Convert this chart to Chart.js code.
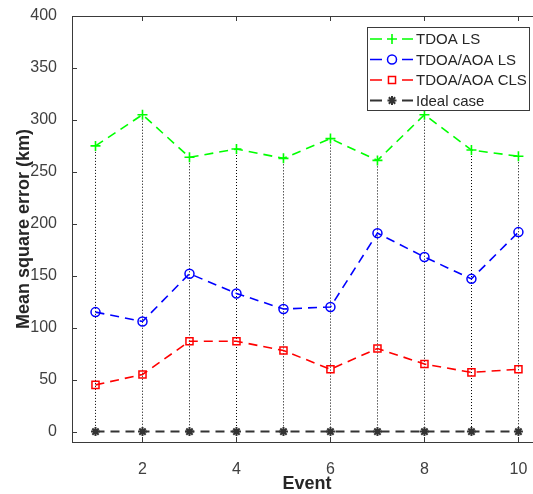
<!DOCTYPE html>
<html>
<head>
<meta charset="utf-8">
<script src="https://cdn.jsdelivr.net/npm/chart.js@4/dist/chart.umd.min.js"></script>
<style>
  html, body { margin: 0; padding: 0; background: #ffffff; }
  canvas { display: block; }
</style>
</head>
<body>
<canvas id="c" width="533" height="494"></canvas>
<script>
// Event index on the x axis
const events = [1, 2, 3, 4, 5, 6, 7, 8, 9, 10];

// Mean square error (km) per estimator
const tdoaLS     = [275, 305, 264, 272, 263, 282, 261, 305, 271, 265];
const tdoaAoaLS  = [115, 106, 152, 133, 118, 120, 191, 168, 147, 192];
const tdoaAoaCLS = [45, 55, 87, 87, 78, 60, 80, 65, 57, 60];
const idealCase  = [0, 0, 0, 0, 0, 0, 0, 0, 0, 0];

const seriesLabels = ['TDOA LS', 'TDOA/AOA LS', 'TDOA/AOA CLS', 'Ideal case'];
const xTitle = 'Event';
const yTitle = 'Mean square error (km)';

// Tick positions
const xTicks = [2, 4, 6, 8, 10];
const yTicks = [0, 50, 100, 150, 200, 250, 300, 350, 400];

const FONT = '"Liberation Sans", Arial, Helvetica, sans-serif';
const AXIS_COLOR = '#3a3a3a';

const toXY = (ys) => events.map((e, i) => ({ x: e, y: ys[i] }));

function series(label, ys, color, style, radius, pointWidth, lineWidth) {
  return {
    label: label,
    data: toXY(ys),
    borderColor: color,
    backgroundColor: 'rgba(0,0,0,0)',
    borderWidth: lineWidth,
    borderDash: [9, 6],
    pointStyle: style,
    pointRadius: radius,
    pointBorderColor: color,
    pointBackgroundColor: 'rgba(0,0,0,0)',
    pointBorderWidth: pointWidth,
    tension: 0,
    fill: false
  };
}

// Dotted stems from the highest value of each event down to the ideal line
const stems = {
  id: 'stems',
  beforeDatasetsDraw(chart) {
    const { ctx, scales: { x, y } } = chart;
    ctx.save();
    ctx.strokeStyle = '#000000';
    ctx.lineWidth = 1;
    ctx.setLineDash([1, 2]);
    events.forEach((e, i) => {
      const top = Math.max(tdoaLS[i], tdoaAoaLS[i], tdoaAoaCLS[i], idealCase[i]);
      const px = Math.round(x.getPixelForValue(e)) + 0.5;
      ctx.beginPath();
      ctx.moveTo(px, y.getPixelForValue(top));
      ctx.lineTo(px, y.getPixelForValue(idealCase[i]));
      ctx.stroke();
    });
    ctx.restore();
  }
};

// Box frame top edge, inward tick marks and the x-axis title
const frame = {
  id: 'frame',
  afterDatasetsDraw(chart) {
    const { ctx, chartArea: a, scales: { x, y } } = chart;
    ctx.save();
    ctx.strokeStyle = AXIS_COLOR;
    ctx.lineWidth = 1;
    ctx.beginPath();
    ctx.moveTo(a.left, a.top + 0.5);
    ctx.lineTo(a.right, a.top + 0.5);
    const len = 5;
    xTicks.forEach(v => {
      const px = Math.round(x.getPixelForValue(v)) + 0.5;
      ctx.moveTo(px, a.bottom);
      ctx.lineTo(px, a.bottom - len);
      ctx.moveTo(px, a.top);
      ctx.lineTo(px, a.top + len);
    });
    yTicks.forEach(v => {
      const py = Math.round(y.getPixelForValue(v)) + 0.5;
      ctx.moveTo(a.left, py);
      ctx.lineTo(a.left + len, py);
    });
    ctx.stroke();

    // x title centred under the full 0.5..10.5 event range
    ctx.fillStyle = '#262626';
    ctx.font = 'bold 18px ' + FONT;
    ctx.textAlign = 'center';
    ctx.textBaseline = 'middle';
    ctx.fillText(xTitle, x.getPixelForValue(5.5), 484);
    ctx.restore();
  }
};

// Legend box in the upper right of the plot
const boxLegend = {
  id: 'boxLegend',
  afterDraw(chart) {
    const { ctx, chartArea: a } = chart;
    const w = 162, h = 83;
    const x0 = a.right - 4 - w, y0 = a.top + 11;
    ctx.save();
    ctx.fillStyle = '#ffffff';
    ctx.fillRect(x0, y0, w, h);
    ctx.strokeStyle = '#3a3a3a';
    ctx.lineWidth = 1;
    ctx.strokeRect(x0 + 0.5, y0 + 0.5, w, h);
    chart.data.datasets.forEach((ds, i) => {
      const cy = y0 + 12 + i * 20.5;
      ctx.strokeStyle = ds.borderColor;
      ctx.lineWidth = ds.borderWidth;
      ctx.setLineDash([]);
      ctx.beginPath();
      ctx.moveTo(x0 + 3, cy);
      ctx.lineTo(x0 + 15, cy);
      ctx.moveTo(x0 + 35, cy);
      ctx.lineTo(x0 + 46, cy);
      ctx.stroke();
      ctx.lineWidth = ds.pointBorderWidth;
      ctx.fillStyle = ds.pointBackgroundColor;
      Chart.helpers.drawPoint(ctx, {
        pointStyle: ds.pointStyle,
        radius: ds.pointRadius,
        rotation: 0,
        borderWidth: ds.pointBorderWidth
      }, x0 + 25, cy);
      ctx.fillStyle = '#262626';
      ctx.font = '15px ' + FONT;
      ctx.textBaseline = 'middle';
      ctx.textAlign = 'left';
      ctx.fillText(ds.label, x0 + 49, cy + 1);
    });
    ctx.restore();
  }
};

new Chart(document.getElementById('c'), {
  type: 'line',
  data: {
    datasets: [
      series(seriesLabels[0], tdoaLS, '#00ff00', 'cross', 5, 1.6, 1.6),
      series(seriesLabels[1], tdoaAoaLS, '#0000ff', 'circle', 4.5, 1.5, 1.6),
      series(seriesLabels[2], tdoaAoaCLS, '#ff0000', 'rect', 5, 1.5, 1.6),
      series(seriesLabels[3], idealCase, '#333333', 'star', 4.5, 2, 2)
    ]
  },
  options: {
    responsive: false,
    animation: false,
    layout: { autoPadding: false, padding: { top: 16, left: 0, right: 0, bottom: 0 } },
    plugins: {
      legend: { display: false },
      tooltip: { enabled: false }
    },
    scales: {
      x: {
        type: 'linear',
        min: 0.5,
        max: 10.31,
        grid: { display: false },
        border: { display: true, color: AXIS_COLOR, width: 1 },
        afterBuildTicks: (s) => { s.ticks = xTicks.map(v => ({ value: v })); },
        afterFit: (s) => { s.height = 52; s.paddingLeft = 0; s.paddingRight = 0; },
        ticks: {
          color: '#404040',
          font: { family: FONT, size: 16 },
          padding: 10,
          maxRotation: 0
        },
        title: { display: false }
      },
      y: {
        type: 'linear',
        min: -10,
        max: 400,
        grid: { display: false },
        border: { display: true, color: AXIS_COLOR, width: 1 },
        afterBuildTicks: (s) => { s.ticks = yTicks.map(v => ({ value: v })); },
        afterFit: (s) => { s.width = 72; s.paddingTop = 0; s.paddingBottom = 0; },
        ticks: {
          color: '#404040',
          font: { family: FONT, size: 16 },
          padding: 7
        },
        title: {
          display: true,
          text: yTitle,
          color: '#262626',
          font: { family: FONT, size: 18, weight: 'bold', lineHeight: 1 },
          padding: { top: 15, bottom: 0 }
        }
      }
    }
  },
  plugins: [stems, frame, boxLegend]
});
</script>
</body>
</html>
